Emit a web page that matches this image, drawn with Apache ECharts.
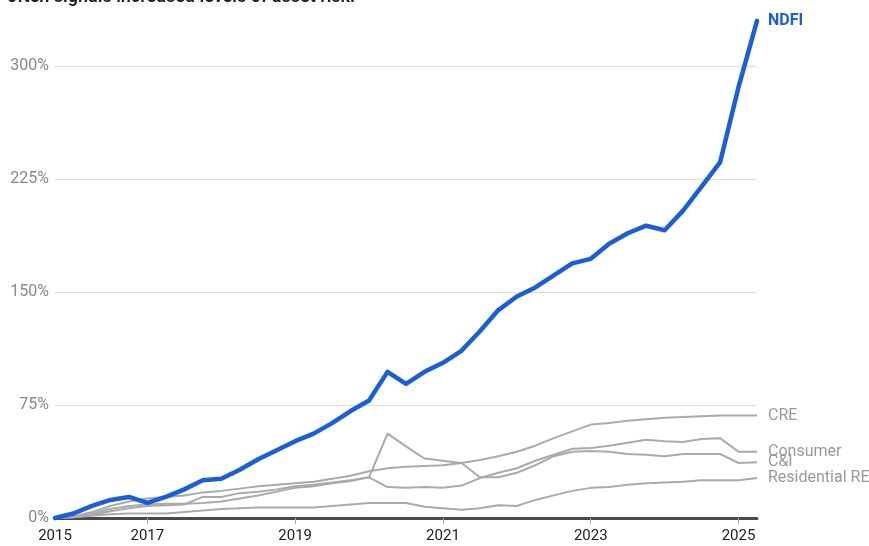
<!DOCTYPE html>
<html><head><meta charset="utf-8">
<script src="https://cdn.jsdelivr.net/npm/echarts@6/dist/echarts.min.js"></script>
<style>html,body{margin:0;padding:0;background:#fff}#c{width:869px;height:546px}</style>
</head><body><div id="c"></div>
<script>
// quarter-end positions in decimal years (2015 Q3 .. 2025 Q1)
var quarters = [2015.75,2016,2016.25,2016.5,2016.75,2017,2017.25,2017.5,2017.75,2018,2018.25,2018.5,2018.75,2019,2019.25,2019.5,2019.75,2020,2020.25,2020.5,2020.75,2021,2021.25,2021.5,2021.75,2022,2022.25,2022.5,2022.75,2023,2023.25,2023.5,2023.75,2024,2024.25,2024.5,2024.75,2025,2025.25];
var xTickYears = [2017, 2019, 2021, 2023, 2025];
var yTicks = [0, 75, 150, 225, 300];
var ndfi = [0,3,8,12,14,10,14,19,25,26,32,39,45,51,56,63,71,78,97,89,97,103,111,124,138,147,153,161,169,172,182,189,194,191,204,220,236,286,330];
var cre = [0,1,4,8,11,13,14,15,17,18,19.5,21,22,23,24,26,28,31,33,34,34.5,35,36.5,38.5,41,44,48,53,57.5,62,63,64.5,65.5,66.5,67,67.5,68,68,68];
var consumer = [0,1,3,6,8,9,9.5,9.5,10,11,13,15,17.5,20,21,23,24.5,27,20.5,20,20.5,20,21.5,26.5,30,33,38,42,46,46.5,48,50,52,51,50.5,52.5,53,44,44];
var cni = [0,0.5,2,4.5,6.5,8,8.5,9,14,14,16.5,17.5,19,21,22,23.5,25,27,56,47.5,39.5,38,36.5,27,27,30,35,41,44,44.5,44,42.5,42,41,42.5,42.5,42.5,36.5,37];
var residential = [0,0.5,1.5,2.5,3,3,3,4,5,6,6.5,7,7,7,7,8,9,10,10,10,7.5,6.5,5.5,6.5,8.5,8,12,15,18,20,20.5,22,23,23.5,24,25,25,25,26.5];
var subtitle = 'often signals increased levels of asset risk.';

function pairs(arr){ return arr.map(function(v,i){ return [quarters[i], v]; }); }
var FONT = 'Roboto, "Liberation Sans", sans-serif';
function grayLine(name, data){
  return {
    name: name, type: 'line', data: pairs(data), symbol: 'none', clip: false, z: 2,
    lineStyle: { color: '#aaaaaa', width: 2 },
    endLabel: { show: true, formatter: '{a}', distance: 11, color: '#999999', fontSize: 16, fontFamily: FONT },
    emphasis: { disabled: true }
  };
}
var chart = echarts.init(document.getElementById('c'), null, { renderer: 'canvas' });
chart.setOption({
  animation: false,
  backgroundColor: '#ffffff',
  title: {
    text: subtitle, left: 7, top: -12, padding: 0,
    textStyle: { fontFamily: FONT, fontSize: 18, fontWeight: 600, color: '#222222' }
  },
  grid: { left: 55, right: 112, top: 66, bottom: 28, containLabel: false },
  xAxis: {
    type: 'value', min: quarters[0], max: quarters[quarters.length - 1],
    axisLine: { show: true, onZero: false, lineStyle: { color: '#4a4a4a', width: 3 } },
    axisTick: { show: true, customValues: xTickYears, length: 6, lineStyle: { color: '#aaaaaa', width: 1 } },
    axisLabel: {
      customValues: [quarters[0]].concat(xTickYears),
      formatter: function (v) { return String(Math.floor(v)); },
      margin: 11, color: '#222222', fontSize: 15, fontFamily: FONT
    },
    splitLine: { show: false }
  },
  yAxis: {
    type: 'value', min: 0, max: 300, interval: 75,
    axisLine: { show: false }, axisTick: { show: false },
    axisLabel: { formatter: '{value}%', margin: 6, color: '#888888', fontSize: 16, fontFamily: FONT },
    splitLine: { show: true, lineStyle: { color: '#dddddd', width: 1 } }
  },
  series: [
    grayLine('CRE', cre),
    grayLine('Consumer', consumer),
    grayLine('C&I', cni),
    grayLine('Residential RE', residential),
    {
      name: 'NDFI', type: 'line', data: pairs(ndfi), symbol: 'none', clip: false, z: 5,
      lineStyle: { color: '#1a5fd8', width: 4.5, join: 'round', cap: 'round' },
      endLabel: { show: true, formatter: '{a}', distance: 11, color: '#1a5fd8', fontSize: 16, fontWeight: 'bold', fontFamily: FONT },
      emphasis: { disabled: true }
    }
  ]
});
</script></body></html>
